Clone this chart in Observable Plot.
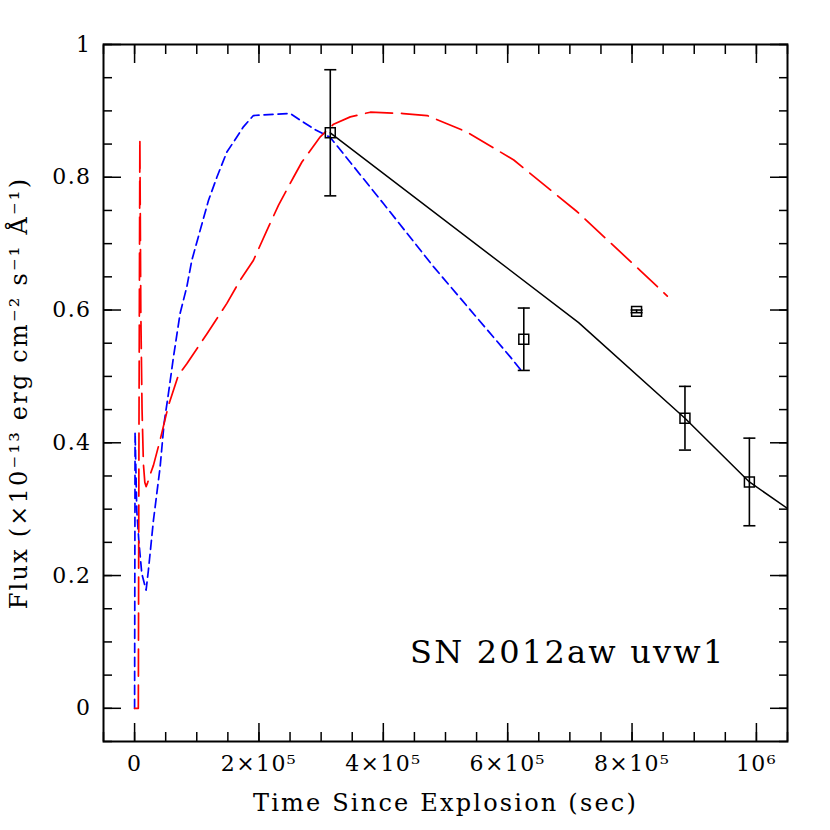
<!DOCTYPE html>
<html>
<head>
<meta charset="utf-8">
<script src="https://cdn.jsdelivr.net/npm/d3@7"></script>
<script src="https://cdn.jsdelivr.net/npm/@observablehq/plot@0.6"></script>
<style>
  html, body { margin: 0; padding: 0; background: #fff; }
  #chart svg { font-family: "DejaVu Serif", serif; background: #fff; }
  #chart svg text { letter-spacing: 1.4px; }
  #chart svg g.title text { letter-spacing: 2.2px; }
</style>
</head>
<body>
<div id="chart"></div>
<script>
// ---- data ----
// Observed uvw1 photometry: time since explosion (s), flux, error
const obsT   = [314700, 625900, 807300, 885100, 988700];
const obsF   = [0.867, 0.556, 0.598, 0.437, 0.341];
const obsErr = [0.095, 0.047, 0.002, 0.048, 0.066];

// Black solid model line
const blackT = [314700, 714100, 885100, 988700, 1050000];
const blackF = [0.867, 0.581, 0.437, 0.341, 0.301];

// Blue short-dashed model
const blueT = [0, 800, 3500, 7000, 11600, 18500, 22200, 30300, 41000, 47500, 54400, 62500, 73200, 84000, 92100, 105400, 118800, 132300, 148400, 159100, 175000, 191100, 250300, 266400, 290000, 314700, 400500, 481000, 604500, 623300];
const blueF = [0, 0.416, 0.298, 0.250, 0.203, 0.178, 0.208, 0.283, 0.363, 0.430, 0.474, 0.529, 0.595, 0.635, 0.675, 0.720, 0.765, 0.800, 0.838, 0.853, 0.876, 0.893, 0.896, 0.886, 0.872, 0.860, 0.760, 0.665, 0.529, 0.507];

// Red long-dashed model
const redT = [0, 6000, 7000, 8500, 10000, 12000, 14200, 16500, 18500, 21000, 25000, 30300, 41000, 54400, 70500, 84000, 116200, 148400, 169800, 191200, 212800, 231500, 255600, 269100, 298600, 320000, 346900, 379100, 432200, 470400, 534800, 609800, 711800, 813700, 856700];
const redF = [0, 0, 0.40, 0.858, 0.60, 0.45, 0.368, 0.340, 0.334, 0.340, 0.352, 0.366, 0.404, 0.456, 0.502, 0.519, 0.564, 0.610, 0.645, 0.675, 0.720, 0.758, 0.800, 0.823, 0.861, 0.880, 0.891, 0.898, 0.896, 0.893, 0.868, 0.826, 0.748, 0.659, 0.621];

// Axis ticks
const xMajor = [0, 200000, 400000, 600000, 800000, 1000000];
const xMajorLabels = ["0", "2×10⁵", "4×10⁵", "6×10⁵", "8×10⁵", "10⁶"];
const xMinor = d3.range(-50000, 1050001, 50000);
const yMajor = [0, 0.2, 0.4, 0.6, 0.8, 1];
const yMajorLabels = ["0", "0.2", "0.4", "0.6", "0.8", "1"];
const yMinor = d3.range(-0.05, 1.0001, 0.05).map(v => +v.toFixed(2));

const xLabel = "Time Since Explosion (sec)";
const yLabel = "Flux (×10⁻¹³ erg cm⁻² s⁻¹ Å⁻¹)";
const annotation = "SN 2012aw uvw1";

// ---- tables ----
const obs = obsT.map((t, i) => ({t, f: obsF[i], lo: obsF[i] - obsErr[i], hi: obsF[i] + obsErr[i]}));
const black = blackT.map((t, i) => ({t, f: blackF[i]}));
const blue = blueT.map((t, i) => ({t, f: blueF[i]}));
const red = redT.map((t, i) => ({t, f: redF[i]}));

const capSymbol = {
  draw(context, size) {
    const w = Math.sqrt(size);
    context.moveTo(-w / 2, 0);
    context.lineTo(w / 2, 0);
  }
};

const xFmt = d => xMajorLabels[xMajor.indexOf(d)] ?? "";
const yFmt = d => yMajorLabels[yMajor.findIndex(v => Math.abs(v - d) < 1e-9)] ?? "";
const blank = () => "";

const chart = Plot.plot({
  width: 830,
  height: 830,
  marginLeft: 103,
  marginRight: 43,
  marginTop: 44,
  marginBottom: 89,
  style: {fontFamily: "'DejaVu Serif', serif", background: "#fff"},
  x: {type: "linear", domain: [-50000, 1050000], nice: false},
  y: {type: "linear", domain: [-0.05, 1], nice: false},
  marks: [
    // inward ticks on all four sides
    Plot.axisX(xMinor, {anchor: "bottom", tickSize: -9, tickFormat: blank, label: null, strokeWidth: 1.5}),
    Plot.axisX(xMinor, {anchor: "top", tickSize: -9, tickFormat: blank, label: null, strokeWidth: 1.5}),
    Plot.axisX(xMajor, {anchor: "bottom", tickSize: -18, tickFormat: blank, label: null, strokeWidth: 1.5}),
    Plot.axisX(xMajor, {anchor: "top", tickSize: -18, tickFormat: blank, label: null, strokeWidth: 1.5}),
    Plot.axisY(yMinor, {anchor: "left", tickSize: -9, tickFormat: blank, label: null, strokeWidth: 1.5}),
    Plot.axisY(yMinor, {anchor: "right", tickSize: -9, tickFormat: blank, label: null, strokeWidth: 1.5}),
    Plot.axisY(yMajor, {anchor: "left", tickSize: -18, tickFormat: blank, label: null, strokeWidth: 1.5}),
    Plot.axisY(yMajor, {anchor: "right", tickSize: -18, tickFormat: blank, label: null, strokeWidth: 1.5}),
    // tick labels
    Plot.axisX(xMajor, {anchor: "bottom", tickSize: 0, tickPadding: 14, tickFormat: xFmt, label: null, fontSize: 22, fill: "#000"}),
    Plot.axisY(yMajor, {anchor: "left", tickSize: 0, tickPadding: 12, tickFormat: yFmt, label: null, fontSize: 22, fill: "#000"}),
    // models
    Plot.line(blue, {x: "t", y: "f", stroke: "#0000ff", strokeWidth: 1.7, strokeDasharray: "9,5", clip: true}),
    Plot.line(red, {x: "t", y: "f", stroke: "#ff0000", strokeWidth: 1.7, strokeDasharray: "27,9", clip: true}),
    Plot.line(black, {x: "t", y: "f", stroke: "#000", strokeWidth: 1.5, clip: true}),
    // error bars
    Plot.ruleX(obs, {x: "t", y1: "lo", y2: "hi", stroke: "#000", strokeWidth: 1.6}),
    Plot.dot(obs, {x: "t", y: "lo", symbol: capSymbol, r: 6.8, stroke: "#000", strokeWidth: 1.6, fill: "none"}),
    Plot.dot(obs, {x: "t", y: "hi", symbol: capSymbol, r: 6.8, stroke: "#000", strokeWidth: 1.6, fill: "none"}),
    Plot.dot(obs, {x: "t", y: "f", symbol: "square", r: 5.6, stroke: "#000", strokeWidth: 1.5, fill: "none"}),
    // frame
    Plot.frame({stroke: "#000", strokeWidth: 2}),
    // axis titles and annotation
    Plot.text([xLabel], {frameAnchor: "bottom", dy: 62, fontSize: 24, fill: "#000", lineAnchor: "middle", className: "title"}),
    Plot.text([yLabel], {frameAnchor: "left", dx: -84, rotate: -90, fontSize: 24, fill: "#000", lineAnchor: "middle", textAnchor: "middle", className: "title"}),
    Plot.text([annotation], {frameAnchor: "bottom-right", dx: -62, dy: -89, fontSize: 32, fill: "#000", textAnchor: "end", lineAnchor: "middle", className: "title"})
  ]
});

document.getElementById("chart").appendChild(chart);
</script>
</body>
</html>
